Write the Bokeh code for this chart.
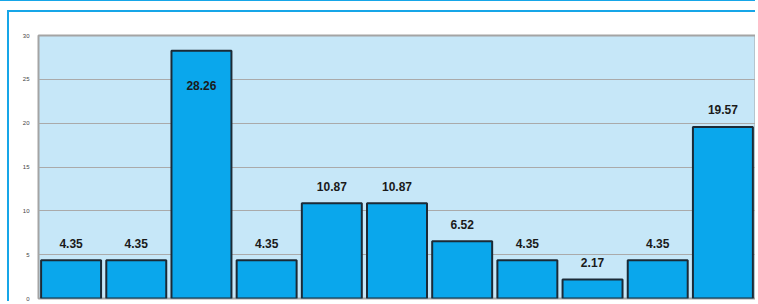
from bokeh.plotting import figure
from bokeh.embed import file_html
from bokeh.resources import INLINE
from bokeh.models import ColumnDataSource, FixedTicker, Range1d
from bokeh.layouts import column
from bokeh.core.properties import value

positions = [1, 2, 3, 4, 5, 6, 7, 8, 9, 10, 11]
values = [4.35, 4.35, 28.26, 4.35, 10.87, 10.87, 6.52, 4.35, 2.17, 4.35, 19.57]
labels = ["4.35", "4.35", "28.26", "4.35", "10.87", "10.87", "6.52", "4.35", "2.17", "4.35", "19.57"]
y_ticks = [0, 5, 10, 15, 20, 25, 30]

offsets = [35 if v > 25 else -17 for v in values]
src = ColumnDataSource(dict(x=positions, top=values, label=labels, off=offsets))

p = figure(width=748, height=291, output_backend="svg", toolbar_location=None,
           x_range=Range1d(0.5, 11.5), y_range=Range1d(0, 30),
           min_border_left=29, min_border_right=2, min_border_top=23, min_border_bottom=5)
p.margin = (9, 0, 0, 7)
p.styles = {"border-left": "2px solid #16a6e8", "border-top": "2px solid #16a6e8"}
p.background_fill_color = "#c6e7f8"
p.border_fill_color = "white"
p.outline_line_color = "#a4a4a4"
p.outline_line_width = 2

p.xaxis.visible = False
p.xgrid.visible = False
p.ygrid.ticker = FixedTicker(ticks=y_ticks)
p.ygrid.grid_line_color = "#aaaaaa"
p.ygrid.grid_line_width = 1
p.yaxis.ticker = FixedTicker(ticks=y_ticks)
p.yaxis.axis_line_color = None
p.yaxis.major_tick_line_color = None
p.yaxis.minor_tick_line_color = None
p.yaxis.major_label_text_font_size = "6px"
p.yaxis.major_label_text_color = "#444444"
p.yaxis.major_label_text_font = "Liberation Sans"
p.yaxis.major_label_standoff = 3

p.vbar(x="x", top="top", bottom=0, width=0.92, source=src,
       fill_color="#0aa7ec", line_color="#1b2a36", line_width=2)

p.text(x="x", y="top", text="label", source=src, y_offset="off",
       text_align="center", text_baseline="middle",
       text_font=value("Liberation Sans"), text_font_style="bold",
       text_font_size="12px", text_color="#1a1a1a")

layout = column(p)
layout.styles = {"border-top": "1px solid #16a6e8"}

open("out.html", "w").write(file_html(layout, INLINE))
